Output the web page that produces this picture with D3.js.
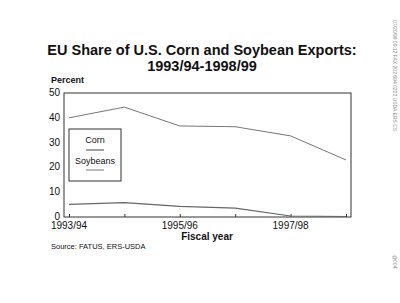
<!DOCTYPE html>
<html lang="en">
<head>
<meta charset="UTF-8">
<title>EU Share of U.S. Corn and Soybean Exports</title>
<style>
  body { margin: 0; background: #fff; }
  text { font-family: "Liberation Sans", Arial, sans-serif; fill: #111; }
</style>
</head>
<body>
<svg width="400" height="303"></svg>
<script src="https://cdn.jsdelivr.net/npm/d3@7"></script>
<script>
// data
var years = ["1993/94", "1994/95", "1995/96", "1996/97", "1997/98", "1998/99"];
var tickLabels = ["1993/94", "1995/96", "1997/98"];
var corn = [5.1, 5.8, 4.3, 3.6, 0.4, 0.2];
var soybeans = [40, 44.3, 36.7, 36.4, 32.7, 23];
var yTicks = [0, 10, 20, 30, 40, 50];

var svg = d3.select("svg");
var pLeft = 64, pRight = 351, pTop = 93, pBottom = 217;

var x = d3.scalePoint().domain(years).range([pLeft, pRight]).padding(0.09);
var y = d3.scaleLinear().domain([0, 50]).range([pBottom, pTop]);

// title
svg.append("text").attr("x", 202).attr("y", 55).attr("text-anchor", "middle")
  .style("font-size", "14.5px").style("font-weight", "bold").text("EU Share of U.S. Corn and Soybean Exports:");
svg.append("text").attr("x", 202).attr("y", 71).attr("text-anchor", "middle")
  .style("font-size", "14.5px").style("font-weight", "bold").text("1993/94-1998/99");
svg.append("text").attr("x", 51).attr("y", 83)
  .style("font-size", "9px").style("font-weight", "bold").text("Percent");

// frame
svg.append("rect").attr("x", pLeft).attr("y", pTop)
  .attr("width", pRight - pLeft).attr("height", pBottom - pTop)
  .attr("fill", "none").attr("stroke", "#333").attr("stroke-width", 1);

// y axis labels
svg.selectAll(".ylab").data(yTicks).enter().append("text")
  .attr("x", 60).attr("y", function (d) { return y(d) + 3; })
  .attr("text-anchor", "end").style("font-size", "10px").text(function (d) { return d; });

// x ticks
var xa = svg.append("g").attr("transform", "translate(0," + pBottom + ")")
  .call(d3.axisBottom(x).tickSize(-3).tickFormat(""));
xa.select(".domain").remove();
xa.selectAll("line").attr("stroke", "#333");

svg.selectAll(".xlab").data(tickLabels).enter().append("text")
  .attr("x", function (d) { return x(d); }).attr("y", 229)
  .attr("text-anchor", "middle").style("font-size", "10px").text(function (d) { return d; });

svg.append("text").attr("x", 207).attr("y", 240).attr("text-anchor", "middle")
  .style("font-size", "10px").style("font-weight", "bold").text("Fiscal year");
svg.append("text").attr("x", 51).attr("y", 249)
  .style("font-size", "7.5px").text("Source:  FATUS, ERS-USDA");

// lines
var line = d3.line().x(function (d, i) { return x(years[i]); }).y(function (d) { return y(d); });
svg.append("path").datum(soybeans).attr("d", line)
  .attr("fill", "none").attr("stroke", "#777").attr("stroke-width", 1);
svg.append("path").datum(corn).attr("d", line)
  .attr("fill", "none").attr("stroke", "#666").attr("stroke-width", 1.2);

// legend
svg.append("rect").attr("x", 69).attr("y", 129).attr("width", 52).attr("height", 52)
  .attr("fill", "#fff").attr("stroke", "#333").attr("stroke-width", 1);
svg.append("text").attr("x", 95).attr("y", 143).attr("text-anchor", "middle")
  .style("font-size", "9px").text("Corn");
svg.append("line").attr("x1", 86).attr("x2", 104).attr("y1", 150).attr("y2", 150)
  .attr("stroke", "#666").attr("stroke-width", 1.2);
svg.append("text").attr("x", 95).attr("y", 164).attr("text-anchor", "middle")
  .style("font-size", "9px").text("Soybeans");
svg.append("line").attr("x1", 86).attr("x2", 104).attr("y1", 170).attr("y2", 170)
  .attr("stroke", "#777").attr("stroke-width", 1);

// fax header along right edge
svg.append("text").attr("transform", "translate(393,20) rotate(90)")
  .style("font-size", "5px").style("fill", "#888")
  .text("07/20/99   09:12   FAX 202 694 0222          USDA ERS CS");
svg.append("text").attr("transform", "translate(393,255) rotate(90)")
  .style("font-size", "5px").style("fill", "#888").text("@004");
</script>
</body>
</html>
